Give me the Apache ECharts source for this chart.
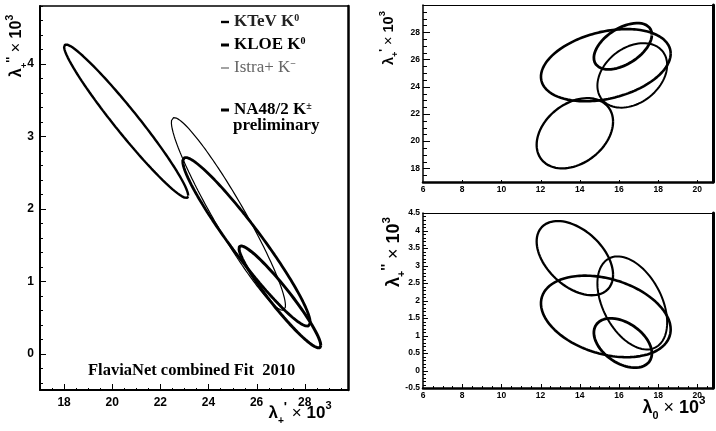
<!DOCTYPE html>
<html><head><meta charset="utf-8">
<script src="https://cdn.jsdelivr.net/npm/echarts@6/dist/echarts.min.js"></script>
<style>html,body{margin:0;padding:0;background:#fff}#c{width:716px;height:431px}</style>
</head><body><div id="c"></div>
<script>
// ---- data (values ×10^3) ----
const experiments = ['KTeV K0', 'KLOE K0', 'Istra+ K-', 'NA48/2 K±'];
const lamP1Center = [20.58, 26.97, 24.83, 25.58];   // λ+'
const lamP1Half   = [2.58, 1.70, 2.37, 2.65];
const lamP2Center = [3.21, 0.785, 1.93, 1.545];     // λ+''
const lamP2Half   = [1.06, 0.705, 1.33, 1.165];
const lam0Center  = [13.75, 16.2, 16.68, 15.33];    // λ0
const lam0Half    = [1.95, 1.48, 1.78, 3.31];
const corrP1P2 = [-0.97, -0.95, -0.95, -0.955];
const corr0P1  = [0.33, 0.5, 0.32, 0.32];
const corr0P2  = [-0.45, -0.42, -0.42, -0.32];

// axis ranges and tick steps
const leftXRange = [17, 29.8], leftXStep = 2;
const leftYRange = [-0.5, 4.8], leftYStep = 1;
const trXRange = [6, 20.8], trXStep = 2;
const trYRange = [17, 30], trYStep = 2;
const brXRange = [6, 20.8], brXStep = 2;
const brYRange = [-0.5, 4.5], brYStep = 0.5;

// ---- styles ----
const SANS = "'Liberation Sans', Arial, Helvetica, sans-serif";
const SERIF = "'Liberation Serif', 'Times New Roman', Times, serif";
const leftWidths = [2.4, 3, 1.2, 2.8];
const rightWidths = [2.3, 2.8, 2, 2.6];

function range(a, b, s) { const r = []; for (let v = a; v <= b + 1e-9; v += s) r.push(+v.toFixed(4)); return r; }
function ellipse(cx, hx, cy, hy, rho) {
  const pts = [], N = 180, q = Math.sqrt(1 - rho * rho);
  for (let i = 0; i <= N; i++) {
    const t = 2 * Math.PI * i / N;
    pts.push([cx + hx * Math.cos(t), cy + hy * (rho * Math.cos(t) + q * Math.sin(t))]);
  }
  return pts;
}

const xAxes = [], yAxes = [];
function mainAxis(list, g, pos, rng, step, lineW, fs, margin) {
  const span = rng[1] - rng[0];
  const minNice = Math.abs(rng[0] / step - Math.round(rng[0] / step)) < 1e-6;
  const maxNice = Math.abs(rng[1] / step - Math.round(rng[1] / step)) < 1e-6;
  list.push({
    type: 'value', gridIndex: g, position: pos, min: rng[0], max: rng[1],
    splitNumber: Math.round(span / step), z: 3,
    axisLine: { show: true, onZero: false, lineStyle: { color: '#000', width: lineW } },
    axisTick: { show: false }, minorTick: { show: false },
    axisLabel: { show: true, showMinLabel: minNice, showMaxLabel: maxNice && pos === 'left' && rng[1] < 5, hideOverlap: false,
      margin: margin, fontSize: fs, fontWeight: 'bold', fontFamily: SANS, color: '#000' },
    splitLine: { show: false }, minorSplitLine: { show: false }
  });
  return list.length - 1;
}
function edgeAxis(list, g, pos, rng, lineW) {
  list.push({
    type: 'value', gridIndex: g, position: pos, min: rng[0], max: rng[1], z: 3,
    axisLine: { show: true, onZero: false, lineStyle: { color: '#000', width: lineW } },
    axisTick: { show: false }, axisLabel: { show: false }, splitLine: { show: false }
  });
}

// left panel
const lx = mainAxis(xAxes, 0, 'bottom', leftXRange, leftXStep, 2, 12, 7);
edgeAxis(xAxes, 0, 'top', leftXRange, 1.5);
const ly = mainAxis(yAxes, 0, 'left', leftYRange, leftYStep, 2, 12, 6);
edgeAxis(yAxes, 0, 'right', leftYRange, 2.5);
// top-right panel
const tx = mainAxis(xAxes, 1, 'bottom', trXRange, trXStep, 2.5, 8.5, 3);
edgeAxis(xAxes, 1, 'top', trXRange, 1.2);
const ty = mainAxis(yAxes, 1, 'left', trYRange, trYStep, 1.5, 8.5, 3);
edgeAxis(yAxes, 1, 'right', trYRange, 3);
// bottom-right panel
const bx = mainAxis(xAxes, 2, 'bottom', brXRange, brXStep, 2.5, 8.5, 3);
edgeAxis(xAxes, 2, 'top', brXRange, 1.2);
const by = mainAxis(yAxes, 2, 'left', brYRange, brYStep, 1.5, 8.5, 3);
edgeAxis(yAxes, 2, 'right', brYRange, 3);

const panels = [
  { xi: lx, yi: ly, xc: lamP1Center, xh: lamP1Half, yc: lamP2Center, yh: lamP2Half, rho: corrP1P2, w: leftWidths },
  { xi: tx, yi: ty, xc: lam0Center, xh: lam0Half, yc: lamP1Center, yh: lamP1Half, rho: corr0P1, w: rightWidths },
  { xi: bx, yi: by, xc: lam0Center, xh: lam0Half, yc: lamP2Center, yh: lamP2Half, rho: corr0P2, w: rightWidths }
];
const series = [];
panels.forEach(p => {
  experiments.forEach((name, i) => {
    series.push({
      type: 'line', name: name, xAxisIndex: p.xi, yAxisIndex: p.yi,
      data: ellipse(p.xc[i], p.xh[i], p.yc[i], p.yh[i], p.rho[i]),
      symbol: 'none', showSymbol: false, smooth: false, silent: true,
      color: '#000', lineStyle: { color: '#000', width: p.w[i] },
      emphasis: { disabled: true }, animation: false
    });
  });
});

const legendText = { 'KTeV K0': 'KTeV K{sup|0}', 'KLOE K0': 'KLOE K{sup|0}', 'Istra+ K-': 'Istra+ K{sup|−}', 'NA48/2 K±': 'NA48/2 K{sup|±}' };
const legendStyle = {
  fontFamily: SERIF, fontSize: 17, fontWeight: 'bold', color: '#000', lineHeight: 18,
  rich: { sup: { fontFamily: SERIF, fontSize: 10, fontWeight: 'bold', verticalAlign: 'top', lineHeight: 10 } }
};
function legendBase(top, data) {
  return {
    left: 221, top: top, orient: 'vertical', padding: 0, itemWidth: 8, itemHeight: 3, itemGap: 5,
    selectedMode: false, itemStyle: { borderWidth: 0 }, textStyle: legendStyle,
    formatter: n => legendText[n], data: data
  };
}

function rich(size) {
  return {
    m: { fontSize: size, fontWeight: 'bold', fontFamily: SANS, fill: '#000', lineHeight: size * 1.5, verticalAlign: 'middle' },
    x: { fontSize: size, fontWeight: 'normal', fontFamily: SANS, fill: '#000', lineHeight: size * 1.5, verticalAlign: 'middle' },
    s: { fontSize: size * 0.6, fontWeight: 'bold', fontFamily: SANS, fill: '#000', verticalAlign: 'bottom' },
    p: { fontSize: size * 0.8, fontWeight: 'bold', fontFamily: SANS, fill: '#000', verticalAlign: 'top' },
    u: { fontSize: size * 0.65, fontWeight: 'bold', fontFamily: SANS, fill: '#000', verticalAlign: 'top' }
  };
}
const T0 = '{m|λ}{s|0}{x| × }{m|10}{u|3}';
const T1 = "{m|λ}{s|+}{p|'}{x| × }{m|10}{u|3}";
const T2 = "{m|λ}{s|+}{p|''}{x| × }{m|10}{u|3}";
function label(x, y, rot, text, size) {
  return { type: 'text', x: x, y: y, rotation: rot, silent: true,
    style: { text: text, rich: rich(size), align: 'center', verticalAlign: 'middle' } };
}
const titleLabels = [
  label(17, 46, Math.PI / 2, T2, 16),
  label(300, 413, 0, T1, 17),
  label(389, 38, Math.PI / 2, T1, 14.5),
  label(394, 252, Math.PI / 2, T2, 18),
  label(674, 408, 0, T0, 18)
];

const option = {
  animation: false,
  backgroundColor: '#fff',
  grid: [
    { left: 40, top: 6, width: 308, height: 384, show: false, containLabel: false, outerBoundsMode: 'none' },
    { left: 423, top: 5, width: 290, height: 177, show: false, containLabel: false, outerBoundsMode: 'none' },
    { left: 423, top: 213, width: 290, height: 175, show: false, containLabel: false, outerBoundsMode: 'none' }
  ],
  xAxis: xAxes,
  yAxis: yAxes,
  legend: [
    legendBase(13, [
      { name: 'KTeV K0', icon: 'path://M0 0H8V2.4H0Z', textStyle: { color: '#222' } },
      { name: 'KLOE K0', icon: 'path://M0 0H8V3H0Z' },
      { name: 'Istra+ K-', icon: 'path://M0 0H8V1.2H0Z', itemStyle: { color: '#666' }, textStyle: { color: '#666', fontWeight: 'normal' } }
    ]),
    legendBase(101, [{ name: 'NA48/2 K±', icon: 'path://M0 0H8V3H0Z' }])
  ],
  title: [
    { text: 'preliminary', left: 233, top: 117, padding: 0, textStyle: { fontFamily: SERIF, fontSize: 17, fontWeight: 'bold', color: '#000' } },
    { text: 'FlaviaNet combined Fit  2010', left: 88, top: 362, padding: 0, textStyle: { fontFamily: SERIF, fontSize: 16.5, fontWeight: 'bold', color: '#000' } }
  ],
  graphic: titleLabels,
  series: series
};
const chart = echarts.init(document.getElementById('c'), null, { renderer: 'canvas', width: 716, height: 431 });
chart.setOption(option);

// inside axis ticks, placed with the axes' own scales
const tickEls = [];
function addTicks(xi, yi, xr, yr, dim, values, len) {
  const x0 = chart.convertToPixel({ xAxisIndex: xi }, xr[0]);
  const y0 = chart.convertToPixel({ yAxisIndex: yi }, yr[0]);
  values.forEach(v => {
    if (dim === 'x') {
      const x = Math.round(chart.convertToPixel({ xAxisIndex: xi }, v)) + 0.5;
      tickEls.push({ type: 'line', silent: true, z: 50, shape: { x1: x, y1: y0, x2: x, y2: y0 - len }, style: { stroke: '#000', lineWidth: 1 } });
    } else {
      const y = Math.round(chart.convertToPixel({ yAxisIndex: yi }, v)) + 0.5;
      tickEls.push({ type: 'line', silent: true, z: 50, shape: { x1: x0, y1: y, x2: x0 + len, y2: y }, style: { stroke: '#000', lineWidth: 1 } });
    }
  });
}
addTicks(lx, ly, leftXRange, leftYRange, 'x', range(18, 28, leftXStep), 6);
addTicks(lx, ly, leftXRange, leftYRange, 'x', range(17.5, 29.5, 0.5), 2);
addTicks(lx, ly, leftXRange, leftYRange, 'y', range(0, 4, leftYStep), 6);
addTicks(lx, ly, leftXRange, leftYRange, 'y', range(-0.4, 4.8, 0.2), 3);
addTicks(tx, ty, trXRange, trYRange, 'x', range(8, 20, trXStep), 2);
addTicks(tx, ty, trXRange, trYRange, 'y', range(18, 28, trYStep), 7);
addTicks(tx, ty, trXRange, trYRange, 'y', range(17.5, 29.5, 0.5), 4);
addTicks(bx, by, brXRange, brYRange, 'x', range(8, 20, brXStep), 4);
addTicks(bx, by, brXRange, brYRange, 'x', range(6.5, 20.5, 0.5), 2);
addTicks(bx, by, brXRange, brYRange, 'y', range(0, 4, brYStep), 5);
addTicks(bx, by, brXRange, brYRange, 'y', range(-0.4, 4.4, 0.1), 3);
chart.setOption({ graphic: titleLabels.concat(tickEls) });
</script></body></html>
